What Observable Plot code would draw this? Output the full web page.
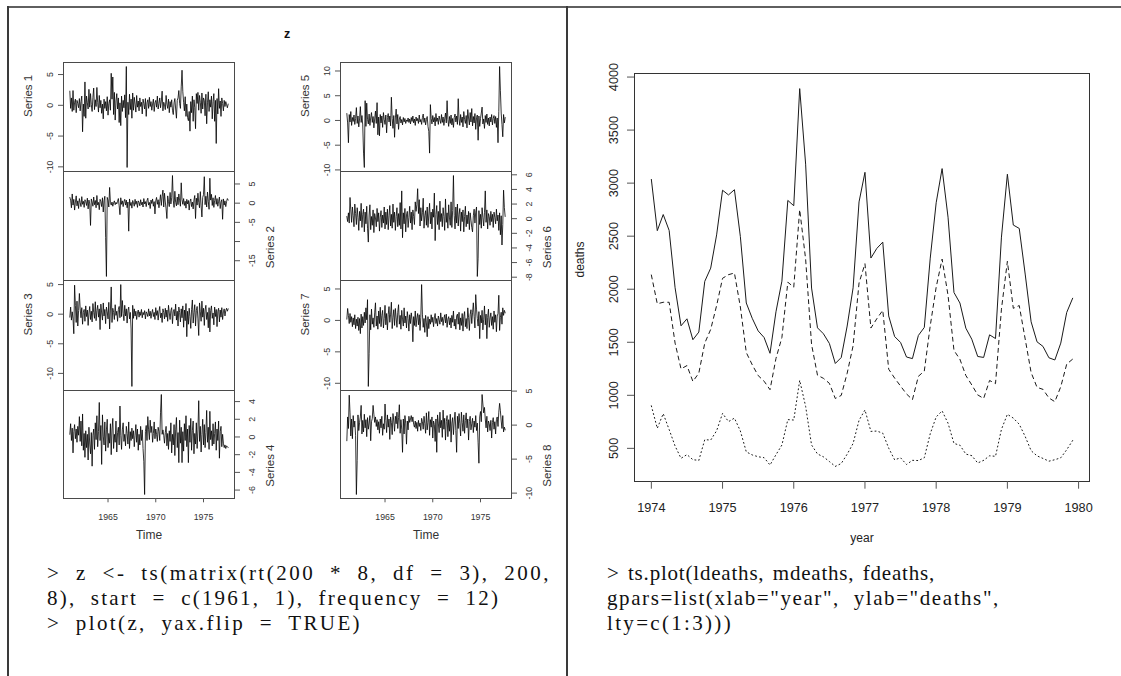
<!DOCTYPE html>
<html><head><meta charset="utf-8">
<script src="https://cdn.jsdelivr.net/npm/d3@7"></script>
<script src="https://cdn.jsdelivr.net/npm/@observablehq/plot@0.6"></script>
<style>
body{margin:0;background:#fff;}
#root{position:relative;width:1121px;height:676px;overflow:hidden;background:#fff;font-family:"Liberation Sans",Arial,sans-serif;}
.abs{position:absolute;}
.code{position:absolute;font-family:"Liberation Serif","DejaVu Serif",serif;font-size:21px;line-height:25px;color:#111;white-space:pre;}
</style></head><body><div id="root"></div><script>
// ---- data: plot(z) : 8 series of 200 monthly values from 1961 ----
const s1 = [2.3,-0.5,1.2,-1.0,2.4,-0.8,0.5,1.0,-1.2,0.8,0.3,-0.4,1.1,-0.9,0.6,1.5,-4.3,0.2,-1.8,3.8,
-2.1,1.5,0.4,-0.6,2.6,-0.3,1.9,0.1,-1.0,1.3,2.8,-0.7,0.9,-0.2,2.9,0.5,-1.1,1.6,-0.4,0.8,
-1.3,0.2,-2.2,1.0,-0.5,0.6,-0.9,1.4,-1.6,0.3,0.9,-0.8,5.2,1.0,4.6,-1.5,2.1,-2.4,0.7,1.9,
-0.6,1.2,-2.8,0.4,-3.3,1.5,-1.0,0.8,-0.4,1.7,-2.0,6.3,-10.1,0.5,-1.5,1.8,-0.7,1.0,-2.1,2.0,
-0.8,1.3,0.2,-1.1,1.6,-0.3,0.7,-0.9,1.2,-0.2,0.5,-1.4,1.0,0.3,-0.6,1.1,-1.8,0.4,0.9,-0.5,
1.3,-0.2,0.6,-0.8,0.2,1.0,-1.0,0.4,0.8,-0.3,1.5,-0.6,0.3,1.2,-0.4,0.7,2.3,-0.9,0.5,0.1,
-0.7,1.6,0.2,-0.5,1.0,-1.2,0.6,-0.3,0.9,-0.8,-1.5,0.4,1.1,-0.6,-2.1,0.8,1.2,2.4,0.3,-0.5,
3.0,5.7,2.2,0.5,-0.9,1.4,-1.8,0.2,-2.0,-2.5,-1.0,-4.2,0.6,-1.2,1.5,-2.6,0.9,-0.4,-3.8,1.9,
0.3,2.1,-0.8,1.6,0.5,-1.3,2.0,-0.6,1.2,0.8,-1.7,1.8,-3.0,0.4,2.2,-1.0,0.9,-0.3,1.5,-2.2,
0.6,1.9,-2.6,0.8,-6.2,1.1,-1.4,2.7,-0.5,0.7,-1.8,1.2,0.3,-0.9,0.8,-0.2,0.6,0.1,-0.4,0.2];
const s2 = [1.5,0.8,-1.2,2.4,-0.5,1.0,-1.8,0.3,1.9,-0.7,0.6,-1.4,1.2,0.2,-0.9,1.7,-0.3,0.5,-1.1,0.9,
0.4,-0.6,1.3,-1.5,0.8,-0.2,-5.8,1.1,0.3,-0.8,1.6,-0.4,0.7,-1.2,2.0,-0.5,0.2,-1.7,1.0,0.4,
-0.9,1.4,-2.3,0.6,1.8,-9.0,-19.1,1.5,0.8,-1.0,4.1,0.2,-0.5,0.3,-0.8,0.1,0.6,-0.4,0.2,-0.2,
0.5,1.2,-0.7,-3.0,1.4,-0.3,0.6,-0.9,0.4,1.0,-0.5,0.8,-1.2,0.3,-7.3,1.1,-0.6,0.2,-1.3,0.7,
0.1,-0.8,1.0,-0.3,0.5,-1.1,0.6,0.2,-0.7,0.9,-0.4,0.3,-1.0,1.2,-0.2,0.4,-0.9,0.7,1.3,-0.5,
0.2,-1.4,0.8,-0.1,1.1,-0.8,0.4,-2.8,0.6,1.5,-0.3,0.9,-1.2,0.5,2.2,-0.6,1.8,3.4,-1.0,2.6,
0.3,-1.5,-4.0,1.9,0.4,-0.9,2.8,-0.2,1.4,7.2,0.8,-1.1,3.1,0.2,-0.7,1.6,-0.4,2.4,0.6,-0.8,
5.3,0.9,-0.3,1.2,-0.6,0.5,-1.3,1.0,-0.2,0.7,-1.8,0.4,1.1,-0.9,0.3,-1.5,0.8,2.0,-4.0,1.3,
-0.5,2.6,0.2,-1.2,3.0,-0.7,-3.6,1.5,2.2,6.9,-0.4,1.8,-1.0,2.9,0.5,-1.6,6.5,0.8,2.3,-0.6,
1.4,-1.1,0.7,2.0,-0.3,1.2,-0.8,0.5,1.6,-1.4,0.3,0.9,-4.2,1.1,-0.5,0.6,-0.9,0.4,1.2,0.8];
const s3 = [-0.5,1.2,-1.0,0.4,-0.8,-3.3,4.9,1.5,-1.4,2.2,-2.0,0.6,3.5,0.9,-0.6,1.1,-1.7,0.3,0.8,-1.2,
1.4,-0.4,0.7,-1.9,0.2,1.3,-0.9,0.5,-1.3,1.8,0.3,-0.7,2.1,-1.1,0.6,1.5,-0.5,0.9,-2.6,1.7,
0.2,-1.0,1.9,-0.3,0.8,-1.6,1.2,0.4,-0.8,2.0,-2.5,0.7,4.6,-1.4,1.0,0.3,-0.9,1.6,-0.2,0.5,
-1.2,0.8,1.3,-0.6,5.0,-0.4,2.3,0.1,-1.1,1.5,-0.3,0.9,-1.5,0.6,1.2,-0.8,0.3,-2.5,-12.2,1.5,
-0.7,0.9,-0.3,0.5,-0.9,0.2,0.7,-0.5,0.4,-0.2,0.8,-0.6,0.3,-0.1,0.6,-0.8,0.4,0.1,-0.4,0.9,
-0.3,0.5,-0.7,0.2,0.8,-0.4,0.3,-0.9,1.1,-0.2,0.6,-1.0,0.4,1.3,-0.6,0.2,-1.4,0.9,0.3,-0.8,
1.0,-0.5,0.7,-1.2,1.5,0.2,-0.9,0.6,1.1,-1.6,0.4,0.8,-0.3,1.7,-1.0,0.5,-2.0,1.2,0.3,-1.3,
0.9,-0.6,1.4,-2.2,0.7,-1.1,1.8,-3.8,0.5,-1.7,1.0,-0.4,-2.4,0.8,2.4,-1.5,0.3,1.6,-2.0,0.6,
1.3,-0.8,-3.6,1.9,0.4,-1.2,2.2,-0.5,1.0,-1.9,0.7,1.5,-0.9,0.3,-2.3,1.1,-3.0,0.6,1.4,-0.7,
0.2,-1.8,1.2,-0.4,0.8,-2.1,0.5,1.0,-1.3,0.7,-0.5,1.1,-0.9,0.4,0.9,-0.3,0.6,1.0,0.5,0.9];
const s4 = [0.3,1.5,-0.4,1.0,-1.8,0.6,1.4,-0.2,0.9,-0.6,1.2,0.2,2.3,-0.5,1.8,-1.0,2.6,-1.5,0.4,-2.3,
0.7,-1.2,0.3,-2.6,1.1,-0.8,-1.9,0.5,-3.3,0.2,0.9,-1.4,1.6,-0.3,2.4,-1.1,0.6,3.9,-0.4,1.3,
-3.1,2.5,0.1,-0.9,1.7,-1.6,0.8,2.0,-1.2,0.4,-0.7,1.5,-2.0,0.9,2.1,-1.3,0.3,-0.6,1.8,-1.7,
0.5,1.1,-0.9,3.5,0.2,-1.4,0.8,1.6,-0.5,0.3,-1.0,1.2,0.4,-0.8,1.7,-1.3,0.6,-0.4,1.0,-0.2,
0.7,-1.1,0.2,1.4,-0.6,0.9,-1.5,0.3,-0.9,1.2,-0.4,0.8,-1.3,-2.8,-6.5,0.6,1.3,-0.4,2.3,0.8,
-0.3,1.9,0.5,1.2,-0.6,0.4,1.7,-0.2,0.9,0.3,-0.5,1.1,0.6,-0.4,2.8,4.8,0.3,0.8,0.2,-0.7,
0.5,1.2,-1.0,0.4,-1.4,0.7,-0.5,1.6,-1.8,0.3,-0.9,1.4,-2.1,0.8,2.2,-1.2,0.5,-2.9,1.9,-0.7,
1.1,-2.9,0.6,-1.6,1.5,-0.4,2.4,-1.1,0.9,-2.9,1.3,-0.6,2.1,-1.5,0.7,1.8,-1.9,0.4,-0.8,1.6,
-1.3,0.8,4.1,-0.5,1.2,-1.7,0.3,2.0,-0.9,1.4,-1.2,0.5,3.0,-0.6,1.1,-1.4,2.9,-0.3,0.7,-1.0,
1.5,-0.8,0.4,1.7,-1.5,0.9,-0.4,1.8,-2.4,0.6,1.2,-1.1,0.3,-0.7,-1.2,-0.9,-1.3,-1.0,-1.1,-1.2];
const s5 = [1.4,-0.5,-4.5,1.2,-0.3,1.8,-1.0,0.6,-0.2,1.1,-0.8,0.4,2.6,-0.6,0.9,-1.3,0.3,2.8,-0.4,1.0,
-0.9,-6.6,-9.5,4.0,-1.2,3.5,0.2,-0.7,1.3,-1.0,0.5,1.6,-0.4,0.8,-1.5,0.3,1.9,-0.6,3.6,-2.9,
0.7,-3.1,1.2,-0.5,0.9,-1.4,1.6,0.2,-0.8,1.1,-2.5,0.6,1.4,-0.3,0.9,-1.1,4.7,0.4,-1.6,1.0,
-3.4,0.5,2.3,-0.7,1.2,-1.8,0.3,0.8,-0.5,0.2,-0.9,0.6,-0.3,0.4,-0.6,0.1,-0.2,0.5,-0.4,0.3,
-0.7,0.6,-0.2,0.9,-0.5,0.3,-1.0,0.7,-0.1,0.4,-0.6,1.1,-0.3,0.2,-0.8,0.6,1.3,-0.4,0.5,-0.9,
0.2,0.8,-1.2,-2.2,-6.6,3.2,0.4,-0.7,1.0,-0.3,0.6,-1.1,1.4,-0.2,0.5,-0.8,0.9,0.1,-0.6,1.2,
-0.4,0.7,-1.0,0.3,1.5,-0.5,4.0,0.2,-1.2,0.8,-0.6,1.1,-0.9,0.4,-1.4,0.6,1.3,-0.3,0.9,-0.8,
4.4,0.3,-1.0,1.2,-0.4,0.7,-1.3,1.8,0.2,-0.6,1.0,-1.5,2.2,0.5,-0.9,1.6,-0.3,2.4,-1.1,0.8,
-0.5,1.4,-1.8,0.6,1.1,-4.0,0.9,-1.2,0.4,1.5,2.7,-0.7,0.3,-1.6,1.0,-0.4,1.3,-0.8,0.5,-1.1,
0.7,-0.3,1.2,-0.9,0.4,1.0,-0.6,0.8,-1.4,0.5,-4.5,1.8,10.9,6.0,1.5,-0.8,-3.3,1.2,-0.5,0.6];
const s6 = [0.3,-0.4,0.8,-0.6,2.9,1.2,-0.5,1.6,0.4,-1.1,2.0,0.7,-0.8,1.5,0.2,-1.6,1.0,-0.3,2.1,-1.2,
0.6,1.3,-1.8,0.9,-0.7,1.7,-1.3,-3.2,0.5,1.9,-1.5,0.3,-0.9,1.2,-1.9,0.7,0.1,-1.1,1.4,-0.4,
0.8,-1.7,0.2,1.1,-1.2,0.5,-0.6,1.6,-1.4,0.9,-0.8,1.3,-1.5,0.4,1.8,-1.0,0.6,-1.3,2.0,-0.5,
0.9,-1.6,0.3,1.5,-1.1,0.7,-0.9,2.2,-1.4,3.8,-2.6,0.8,-0.7,1.4,-1.8,0.5,1.0,-1.2,0.2,1.7,
-0.6,0.9,-1.5,1.2,0.3,-0.8,2.3,1.0,1.9,4.1,0.7,2.6,-1.0,1.5,-0.3,0.8,2.8,-1.3,0.4,1.1,
-0.9,1.6,-1.2,0.5,2.1,-0.7,0.9,-1.4,1.3,0.2,3.5,-3.0,0.6,1.8,-0.8,1.0,-1.5,2.4,-0.4,0.7,
-1.1,1.5,0.3,-1.6,2.7,-0.5,0.8,-1.3,1.9,0.1,-0.9,2.3,-1.2,1.1,5.9,0.4,-1.4,1.6,-0.6,2.0,
-1.0,0.6,1.4,-1.7,0.9,-0.4,1.2,-1.8,0.3,1.7,-1.1,0.5,-0.7,1.0,-1.5,0.8,-0.2,-1.2,-1.8,0.4,
1.3,-0.6,0.9,1.6,-7.9,-5.4,1.1,-0.8,0.6,-1.3,1.5,0.2,-1.0,0.8,3.8,-0.5,1.2,-1.4,0.7,0.3,
-0.9,1.0,-0.4,0.6,-1.2,0.9,0.2,-0.7,1.3,-0.3,0.5,-1.6,0.8,-2.2,0.4,-3.6,-0.8,3.9,1.5,0.3];
const s7 = [0.2,1.9,0.8,-0.5,1.1,-0.3,0.6,-1.0,0.4,-0.7,0.9,-1.3,0.2,-0.9,0.5,-1.6,0.3,-2.1,1.0,-1.2,
0.6,-0.8,1.3,-0.4,2.0,0.1,3.3,-10.5,-5.3,0.9,-1.5,1.8,-0.6,0.4,-1.1,1.2,2.8,-0.9,0.7,-1.4,
1.5,-0.5,2.1,-1.0,0.8,1.6,-1.2,0.3,2.4,-0.7,1.1,-1.5,0.9,2.2,-0.3,1.0,2.9,-1.3,0.5,1.7,
-0.8,1.9,0.4,-1.1,1.3,2.5,-0.6,0.8,-1.4,1.6,0.2,-0.9,2.0,-0.4,0.7,-1.2,1.4,0.3,-1.7,0.9,
-0.5,1.2,0.1,-3.4,0.6,-0.8,1.5,-1.0,0.4,1.1,-0.7,0.9,-1.6,0.5,5.7,1.0,-1.1,0.3,-1.9,0.8,
-0.4,-2.6,0.6,-1.3,0.2,-0.6,0.9,-0.3,0.5,-1.0,0.4,1.1,-0.5,0.3,-0.9,0.7,0.1,-0.6,1.2,-0.2,
0.5,-0.8,0.3,0.9,-0.4,1.0,-1.1,0.2,0.6,-0.7,0.4,-1.2,0.8,-0.3,1.5,-0.9,0.2,-1.4,0.7,1.0,
-0.6,1.3,-1.5,0.4,-0.8,1.1,-1.7,0.6,1.4,-1.0,0.3,-1.3,2.0,0.5,-1.6,0.9,1.7,-0.5,1.2,2.8,
0.6,-1.2,4.1,1.8,0.3,-0.9,1.4,-2.9,0.8,-0.4,1.6,-1.5,0.2,2.3,-0.7,1.0,-2.9,0.5,1.8,-1.1,
0.4,1.2,-0.8,0.6,-1.4,1.5,-0.3,0.9,-1.8,0.7,1.1,4.0,-1.6,0.5,1.3,-0.6,2.0,0.8,1.6,1.2];
const s8 = [-2.3,1.2,-0.5,4.4,1.8,-1.6,0.9,-2.0,1.4,-0.3,0.6,-1.5,-10.2,-5.2,1.5,-0.8,0.4,1.2,2.9,-1.3,
0.7,-1.0,1.6,-0.4,0.8,-1.7,1.1,-0.6,0.3,1.4,-2.3,0.5,1.0,2.9,1.6,0.4,1.2,-0.2,0.8,-0.7,
0.5,-1.2,0.9,-0.4,1.3,-1.5,0.2,-0.6,3.1,0.7,-1.1,1.5,-0.3,0.9,-2.1,1.2,0.4,-1.4,1.7,0.6,
-0.9,1.3,0.2,1.9,-0.5,1.1,3.0,-1.2,0.8,-0.6,-4.0,0.9,-1.3,1.4,0.3,-2.8,0.6,-0.7,1.3,0.4,
0.9,1.4,0.5,1.2,0.1,-0.3,0.6,-0.5,0.4,-0.9,0.7,-0.2,0.3,-0.8,1.0,0.5,-0.6,1.3,0.2,-1.2,
1.8,-0.7,0.4,2.0,-1.5,0.8,-0.3,1.2,-1.9,0.6,0.1,-2.4,0.9,-4.0,1.5,0.3,-1.1,1.9,-0.4,0.7,
-1.8,2.2,-0.6,1.0,-2.2,0.5,1.4,-1.7,0.8,-0.9,1.6,-2.5,0.3,1.1,-1.4,0.6,1.9,-0.8,-4.0,1.3,
-0.5,1.7,0.2,-1.6,1.9,0.4,-0.9,1.5,-1.2,0.7,1.8,-0.4,0.9,-2.2,0.5,1.3,-0.7,0.2,1.0,-1.1,
0.6,-0.3,1.4,-0.8,0.3,-2.6,-5.6,1.2,2.0,0.5,4.5,3.1,1.8,2.6,0.9,-0.4,1.3,-1.0,0.6,0.2,
-0.8,0.7,-1.9,0.4,1.1,-0.6,0.5,-1.3,0.8,1.2,-0.2,1.9,3.2,2.1,0.6,-0.5,1.4,-1.0,-0.3,-0.7];
const seriesLabels = ["Series 1","Series 2","Series 3","Series 4","Series 5","Series 6","Series 7","Series 8"];
const seriesTicks = [[-10,-5,0,5],[-15,-10,-5,0,5],[-10,-5,0,5],[-6,-4,-2,0,2,4],
                     [-10,-5,0,5,10],[-8,-6,-4,-2,0,2,4,6],[-10,-5,0,5],[-10,-5,0,5]];
const seriesHidden = [[],[-10],[],[],[],[],[],[]];
const timeTicks = [1965,1970,1975];
const zStart = 1961;

// ---- data: ts.plot(ldeaths, mdeaths, fdeaths) monthly 1974-1979 ----
const ldeaths = [3035,2552,2704,2554,2014,1655,1721,1524,1596,2074,2199,2512,
2933,2889,2938,2497,1870,1726,1607,1545,1396,1787,2076,2837,
2787,3891,3179,2011,1636,1580,1489,1300,1356,1653,2013,2823,
3102,2294,2385,2444,1748,1554,1498,1361,1346,1564,1640,2293,
2815,3137,2679,1969,1870,1633,1529,1366,1357,1570,1535,2491,
3084,2605,2573,2143,1693,1504,1461,1354,1333,1492,1781,1915];
const mdeaths = [2134,1863,1877,1877,1492,1249,1280,1131,1209,1492,1621,1846,
2103,2137,2153,1833,1403,1288,1186,1133,1053,1347,1545,2066,
2020,2750,2283,1479,1189,1160,1113,970,999,1208,1467,2059,
2240,1634,1722,1801,1246,1162,1087,1013,959,1179,1229,1655,
2019,2284,1942,1423,1340,1187,1098,1004,970,1140,1110,1812,
2263,1820,1846,1531,1215,1075,1056,975,940,1081,1294,1341];
const fdeaths = [901,689,827,677,522,406,441,393,387,582,578,666,
830,752,785,664,467,438,421,412,343,440,531,771,
767,1141,896,532,447,420,376,330,357,445,546,764,
862,660,663,643,502,392,411,348,387,385,411,638,
796,853,737,546,530,446,431,362,387,430,425,679,
821,785,727,612,478,429,405,379,393,411,487,574];
const deathsStart = 1974;
const deathsYTicks = [500,1000,1500,2000,2500,3000,3500,4000];
const deathsXTicks = [1974,1975,1976,1977,1978,1979,1980];

const codeLeft = ["> z <- ts(matrix(rt(200 * 8, df = 3), 200,", "8), start = c(1961, 1), frequency = 12)", "> plot(z, yax.flip = TRUE)"];
const codeRight = ["> ts.plot(ldeaths, mdeaths, fdeaths,", "gpars=list(xlab=\"year\", ylab=\"deaths\",", "lty=c(1:3)))"];

// ---- layout ----
const root = document.getElementById("root");
function addDiv(css, text) { const d = document.createElement("div"); d.className = "abs"; d.style.cssText = css; if (text !== undefined) d.textContent = text; root.appendChild(d); return d; }
addDiv("left:7px;top:6px;width:1114px;height:2px;background:#5f5f5f;");
addDiv("left:7px;top:6px;width:2px;height:670px;background:#3a3a3a;");
addDiv("left:566px;top:6px;width:2px;height:670px;background:#3a3a3a;");
addDiv("left:237px;top:27px;width:100px;text-align:center;font:bold 12.5px 'Liberation Sans',Arial,sans-serif;color:#111;", "z");

function extent4(a) { const lo = d3.min(a), hi = d3.max(a), r = hi - lo; return [lo - 0.04 * r, hi + 0.04 * r]; }
const allS = [s1,s2,s3,s4,s5,s6,s7,s8];
const zTimeDomain = extent4([zStart, zStart + (s1.length - 1) / 12]);
const colX = [63, 340], rowY = [62, 171, 280, 390, 498], panelW = 171;
const fmt = d => String(d);

allS.forEach((vals, k) => {
  const col = Math.floor(k / 4), row = k % 4;
  const side = row % 2 === 0 ? "left" : "right";
  const h = rowY[row + 1] - rowY[row];
  const bottom = row === 3;
  const mL = 60, mR = 60, mT = 4, mB = bottom ? 50 : 4;
  const data = vals.map((v, i) => ({t: zStart + i / 12, v}));
  const hidden = seriesHidden[k];
  const marks = [
    Plot.lineY(data, {x: "t", y: "v", stroke: "#000", strokeWidth: 0.8}),
    Plot.frame({stroke: "#4a4a4a"}),
    Plot.axisY({anchor: side, ticks: seriesTicks[k], tickSize: 5, tickRotate: -90, lineAnchor: "middle",
      tickPadding: side === "left" ? 8.3 : 12.4, tickFormat: d => hidden.includes(d) ? "" : fmt(d),
      label: null, stroke: "#555", fill: "#333", fontSize: 8.8}),
    Plot.text([seriesLabels[k]], {text: d => d, frameAnchor: side, rotate: -90, lineAnchor: "middle",
      dx: side === "left" ? -35 : 35.5, fontSize: 11.5, fill: "#333"})
  ];
  if (bottom) {
    marks.push(Plot.axisX({ticks: timeTicks, tickSize: 4.3, tickPadding: 14, lineAnchor: "middle",
      tickFormat: fmt, label: null, stroke: "#555", fill: "#333", fontSize: 8.8}));
    marks.push(Plot.text(["Time"], {text: d => d, frameAnchor: "bottom", dy: 37, lineAnchor: "middle", fontSize: 12, fill: "#333"}));
  }
  const p = Plot.plot({
    width: mL + panelW + mR, height: mT + h + mB,
    marginLeft: mL, marginRight: mR, marginTop: mT, marginBottom: mB,
    x: bottom ? {domain: zTimeDomain} : {domain: zTimeDomain, axis: null},
    y: {domain: extent4(vals)},
    style: {fontFamily: "'Liberation Sans',Arial,sans-serif", background: "transparent", overflow: "visible"},
    marks
  });
  p.style.position = "absolute";
  p.style.left = (colX[col] - mL) + "px";
  p.style.top = (rowY[row] - mT) + "px";
  root.appendChild(p);
});

// ---- right chart ----
const toRows = a => a.map((v, i) => ({t: deathsStart + i / 12, v}));
const dL = toRows(ldeaths), dM = toRows(mdeaths), dF = toRows(fdeaths);
const allDeaths = ldeaths.concat(mdeaths, fdeaths);
{
  const fx0 = 634, fx1 = 1089, fy0 = 73, fy1 = 481;
  const left = 560, top = 40, mR = 20, mB = 70;
  const mL = fx0 - left, mT = fy0 - top;
  const p = Plot.plot({
    width: fx1 - left + mR, height: fy1 - top + mB,
    marginLeft: mL, marginRight: mR, marginTop: mT, marginBottom: mB,
    x: {domain: extent4([deathsStart, deathsStart + (ldeaths.length - 1) / 12])},
    y: {domain: extent4(allDeaths)},
    style: {fontFamily: "'Liberation Sans',Arial,sans-serif", background: "transparent", overflow: "visible"},
    marks: [
      Plot.lineY(dL, {x: "t", y: "v", stroke: "#1a1a1a", strokeWidth: 1}),
      Plot.lineY(dM, {x: "t", y: "v", stroke: "#1a1a1a", strokeWidth: 1, strokeDasharray: "4,4"}),
      Plot.lineY(dF, {x: "t", y: "v", stroke: "#1a1a1a", strokeWidth: 1, strokeDasharray: "1,3"}),
      Plot.frame({stroke: "#333"}),
      Plot.axisY({ticks: deathsYTicks, tickSize: 7, tickRotate: -90, lineAnchor: "middle", tickPadding: 14,
        tickFormat: fmt, label: null, stroke: "#555", fill: "#222", fontSize: 12.7}),
      Plot.axisX({ticks: deathsXTicks, tickSize: 7.7, tickPadding: 18.6, lineAnchor: "middle",
        tickFormat: fmt, label: null, stroke: "#555", fill: "#222", fontSize: 12.7}),
      Plot.text(["deaths"], {text: d => d, frameAnchor: "left", rotate: -90, lineAnchor: "middle", dx: -54, fontSize: 12, fill: "#222"}),
      Plot.text(["year"], {text: d => d, frameAnchor: "bottom", dy: 57, lineAnchor: "middle", fontSize: 12, fill: "#222"})
    ]
  });
  p.style.position = "absolute";
  p.style.left = left + "px";
  p.style.top = top + "px";
  root.appendChild(p);
}

// ---- code captions ----
const baselines = [580, 605, 630];
const leftTargets = [504, 453, 315], rightTargets = [328, 393, 126];
function addCode(lines, x, targets) {
  lines.forEach((t, i) => {
    const d = addDiv("", "");
    d.className = "code";
    d.style.left = x + "px";
    d.style.top = (baselines[i] - 19.5) + "px";
    const sp = document.createElement("span");
    sp.textContent = t;
    const baseLs = 0.8;
    sp.style.letterSpacing = baseLs + "px";
    d.appendChild(sp);
    const w0 = sp.getBoundingClientRect().width;
    const spaces = (t.match(/ /g) || []).length;
    let extra = targets[i] - w0;
    if (spaces > 0) {
      let ws = Math.max(-2, Math.min(7, extra / spaces));
      sp.style.wordSpacing = ws.toFixed(2) + "px";
      extra -= ws * spaces;
    }
    if (Math.abs(extra) > 1) sp.style.letterSpacing = (baseLs + extra / t.length).toFixed(2) + "px";
  });
}
addCode(codeLeft, 47, leftTargets);
addCode(codeRight, 607, rightTargets);
</script></body></html>
